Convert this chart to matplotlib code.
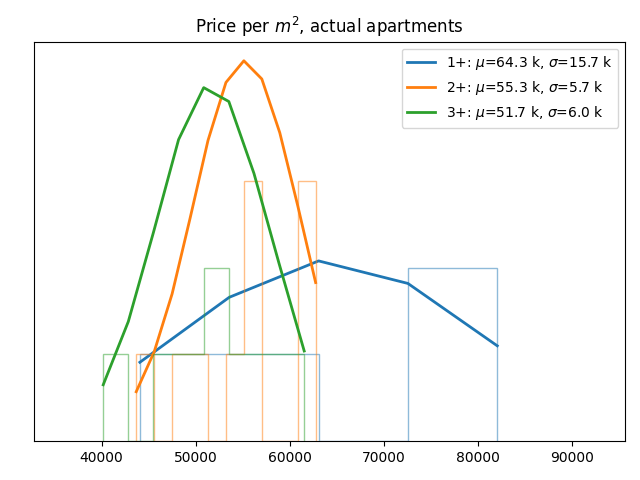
import numpy as np
from matplotlib import pyplot as plt

# histogram bin edges (price per m2) and counts per group
edges_1 = [44070, 53575, 63080, 72580, 82085]
counts_1 = [1, 1, 0, 2]
edges_2 = [43680, 45590, 47500, 49405, 51315, 53225, 55130, 57040, 58950, 60855, 62765]
counts_2 = [1, 0, 1, 1, 0, 1, 3, 0, 0, 3]
edges_3 = [40170, 42840, 45515, 48185, 50860, 53530, 56205, 58875, 61550]
counts_3 = [1, 0, 1, 1, 2, 1, 1, 1]

# fitted curve values at the bin edges
fit_1 = [0.91, 1.66, 2.08, 1.82, 1.10]
fit_2 = [0.57, 1.03, 1.70, 2.57, 3.47, 4.14, 4.39, 4.18, 3.56, 2.72, 1.83]
fit_3 = [0.65, 1.38, 2.41, 3.48, 4.08, 3.92, 3.09, 2.05, 1.04]

labels = ['1+: $\\mu$=64.3 k, $\\sigma$=15.7 k',
          '2+: $\\mu$=55.3 k, $\\sigma$=5.7 k',
          '3+: $\\mu$=51.7 k, $\\sigma$=6.0 k']

groups = [(edges_1, counts_1, fit_1),
          (edges_2, counts_2, fit_2),
          (edges_3, counts_3, fit_3)]

fig, ax = plt.subplots(figsize=(6.4, 4.8), dpi=100)
for i, (edges, counts, fit) in enumerate(groups):
    color = 'C{}'.format(i)
    ax.hist(edges[:-1], bins=edges, weights=counts, histtype='step',
            color=color, alpha=0.5)
    ax.plot(edges, fit, color=color, linewidth=2, label=labels[i])

ax.set_xlim(32800, 95700)
ax.set_yticks([])
ax.set_title('Price per $m^2$, actual apartments')
ax.legend(loc='upper right')
plt.subplots_adjust(left=0.053, right=0.977, top=0.913, bottom=0.081)
plt.savefig('out.png')
